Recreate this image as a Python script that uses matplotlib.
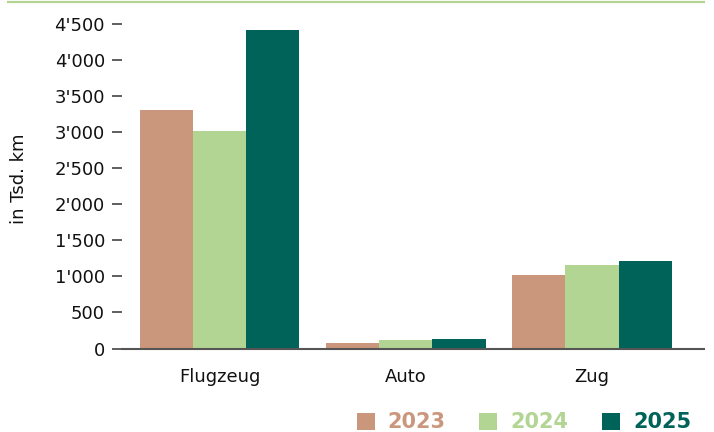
import numpy as np
import matplotlib
matplotlib.use('Agg')
import matplotlib.pyplot as plt
from matplotlib.lines import Line2D
from matplotlib.patches import Patch

# %% Data
categories = ['Flugzeug', 'Auto', 'Zug']
years = ['2023', '2024', '2025']
values_2023 = [3310, 76, 1020]
values_2024 = [3020, 118, 1160]
values_2025 = [4420, 132, 1215]
yticks = [0, 500, 1000, 1500, 2000, 2500, 3000, 3500, 4000, 4500]
ytick_labels = ["0", "500", "1'000", "1'500", "2'000", "2'500", "3'000", "3'500", "4'000", "4'500"]

colors = ['#cb977c', '#b2d594', '#00635a']

# %% Plot
plt.rcParams['font.family'] = ['DejaVu Sans']
fig = plt.figure(figsize=(7.14, 4.32), dpi=100)
ax = fig.add_axes([122 / 714, 1 - 348.5 / 432, 582 / 714, 324.5 / 432])

x = np.arange(len(categories))
width = 0.286
series = [values_2023, values_2024, values_2025]
for i, vals in enumerate(series):
    ax.bar(x + (i - 1) * width, vals, width=width, color=colors[i], zorder=2)

ax.set_xlim(-0.5235, 2.601)
ax.set_ylim(0, 4500)

for s in ax.spines.values():
    s.set_visible(False)
ax.axhline(0, color='#555555', lw=1.5, zorder=3, clip_on=False)

ax.set_yticks(yticks)
ax.set_yticklabels(ytick_labels)
ax.tick_params(axis='y', length=7.2, width=1.1, color='#333333', pad=5,
               labelsize=13, labelcolor='#111111')
ax.set_xticks(x)
ax.set_xticklabels(categories)
ax.tick_params(axis='x', length=0, pad=14, labelsize=13, labelcolor='#111111')

ax.set_ylabel('in Tsd. km', fontsize=13, color='#111111')
ax.yaxis.set_label_coords(-0.162, 0.522)

# top rule
fig.add_artist(Line2D([8 / 714, 704 / 714], [1 - 1.5 / 432, 1 - 1.5 / 432],
                      color='#b2d594', lw=1.6, transform=fig.transFigure))

# legend
handles = [Patch(facecolor=c, edgecolor='none') for c in colors]
leg = fig.legend(handles, years, loc='center right', bbox_to_anchor=(0.968, 0.022),
                 bbox_transform=fig.transFigure, ncol=3, frameon=False,
                 borderpad=0, borderaxespad=0, handlelength=0.87, handleheight=0.87,
                 handletextpad=0.63, columnspacing=1.6,
                 prop={'size': 15, 'weight': 'bold'})
for t, c in zip(leg.get_texts(), colors):
    t.set_color(c)

fig.savefig('out.png', dpi=100)
